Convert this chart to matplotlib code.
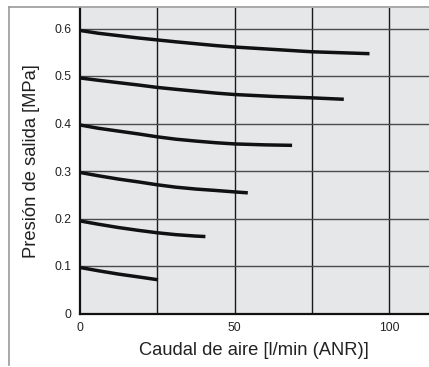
import matplotlib
matplotlib.use("Agg")
import matplotlib.pyplot as plt
from matplotlib.lines import Line2D

plt.rcParams['font.family'] = ['Liberation Sans', 'DejaVu Sans']

# Data
x_06 = [0, 6, 12.5, 19, 25, 31, 37.5, 44, 50, 62.5, 75, 93.6]
y_06 = [0.596, 0.590, 0.585, 0.580, 0.576, 0.572, 0.568, 0.564, 0.561, 0.556, 0.551, 0.547]
x_05 = [0, 6, 12.5, 19, 25, 31, 37.5, 44, 50, 62.5, 75, 85.3]
y_05 = [0.496, 0.491, 0.486, 0.481, 0.476, 0.472, 0.468, 0.464, 0.461, 0.457, 0.454, 0.451]
x_04 = [0, 6, 12.5, 19, 25, 31, 37.5, 44, 50, 60, 68.6]
y_04 = [0.397, 0.390, 0.384, 0.378, 0.372, 0.367, 0.363, 0.3595, 0.357, 0.355, 0.354]
x_03 = [0, 6, 12.5, 19, 25, 31, 37.5, 44, 50, 54.3]
y_03 = [0.297, 0.290, 0.283, 0.277, 0.271, 0.266, 0.262, 0.259, 0.256, 0.254]
x_02 = [0, 6, 12.5, 19, 25, 31, 37.5, 40.6]
y_02 = [0.195, 0.188, 0.181, 0.175, 0.170, 0.166, 0.163, 0.162]
x_01 = [0, 6, 12.5, 19, 25.3]
y_01 = [0.097, 0.090, 0.083, 0.077, 0.071]

curves = [(x_06, y_06), (x_05, y_05), (x_04, y_04),
          (x_03, y_03), (x_02, y_02), (x_01, y_01)]

x_ticks = [0, 50, 100]
x_grid = [25, 50, 75, 100]
y_ticks = [0, 0.1, 0.2, 0.3, 0.4, 0.5, 0.6]
y_labels = ['0', '0.1', '0.2', '0.3', '0.4', '0.5', '0.6']

W, H = 429, 367
fig = plt.figure(figsize=(W / 100, H / 100), dpi=100)
fig.patch.set_facecolor('white')

x0, x1 = 79.7, 429
y0, y1 = 313.5, 8
ax = fig.add_axes([x0 / W, 1 - y0 / H, (x1 - x0) / W, (y0 - y1) / H])
ax.set_facecolor('#e6e7e9')
ax.set_xlim(0, (x1 - x0) / 3.096)
ax.set_ylim(0, (y0 - y1) / 475.0)

for gx in x_grid:
    ax.axvline(gx, color='#1a1a1a', lw=1.0, zorder=1)
for gy in y_ticks[1:]:
    ax.axhline(gy, color='#4a4a4a', lw=1.0, zorder=1)

for xs, ys in curves:
    ax.plot(xs, ys, color='#111111', lw=2.5, solid_capstyle='butt',
            solid_joinstyle='round', zorder=3)

for s in ['top', 'right']:
    ax.spines[s].set_visible(False)
for s in ['left', 'bottom']:
    ax.spines[s].set_color('#111111')
    ax.spines[s].set_linewidth(1.6)

ax.set_xticks(x_ticks)
ax.set_xticklabels([str(v) for v in x_ticks], fontsize=8.7)
ax.set_yticks(y_ticks)
ax.set_yticklabels(y_labels, fontsize=8.7)
ax.tick_params(axis='both', length=0, colors='#222222')
ax.tick_params(axis='x', pad=6)
ax.tick_params(axis='y', pad=6)

ax.set_xlabel('Caudal de aire [l/min (ANR)]', fontsize=13.2, color='#222222', labelpad=6)
ax.set_ylabel('Presión de salida [MPa]', fontsize=13.2, color='#222222', labelpad=10)

# outer frame lines
fig.add_artist(Line2D([8.5 / W, 8.5 / W], [1 - 7 / H, 1 - 365 / H],
                      transform=fig.transFigure, color='#9a9a9a', lw=1.2))
fig.add_artist(Line2D([8.5 / W, 1.0], [1 - 7 / H, 1 - 7 / H],
                      transform=fig.transFigure, color='#9a9a9a', lw=1.2))

fig.savefig('out.png', dpi=100)
